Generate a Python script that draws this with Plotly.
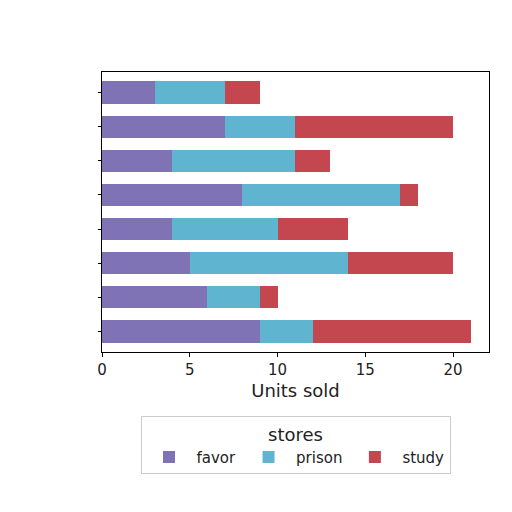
import plotly.graph_objects as go

categories = ["c1","c2","c3","c4","c5","c6","c7","c8"]
favor  = [3, 7, 4, 8, 4, 5, 6, 9]
prison = [4, 4, 7, 9, 6, 9, 3, 3]
study  = [2, 9, 2, 1, 4, 6, 1, 9]
series = [("favor", favor, "#7f72b5"), ("prison", prison, "#5fb4d0"), ("study", study, "#c4474f")]

fig = go.Figure()
for name, vals, col in series:
    fig.add_trace(go.Bar(y=categories, x=vals, name=name, orientation="h",
                         marker=dict(color=col, line=dict(width=0)), width=0.65))

fig.update_layout(
    barmode="stack", width=512, height=512,
    paper_bgcolor="white", plot_bgcolor="white",
    margin=dict(l=94, r=31, t=64, b=168, autoexpand=False),
    font=dict(family="DejaVu Sans", size=15, color="#222"),
    xaxis=dict(range=[0, 22.05], tickvals=[0,5,10,15,20], title=dict(text="Units sold", standoff=6),
               showgrid=False, zeroline=False, showline=True, linecolor="black", mirror=True,
               ticks="outside", ticklen=4, tickcolor="black", automargin=False),
    yaxis=dict(showticklabels=False, showgrid=False, zeroline=False,
               showline=True, linecolor="black", mirror=True, ticks="outside", ticklen=3,
               tickcolor="black", range=[7.6, -0.6], automargin=False),
    legend=dict(orientation="h", traceorder="normal", title=dict(text="stores", side="top center"),
                x=0.5, xanchor="center", y=-0.23, yanchor="top", itemwidth=45,
                bordercolor="#ccc", borderwidth=1, font=dict(size=15)),
)
fig.write_html("out.html")
